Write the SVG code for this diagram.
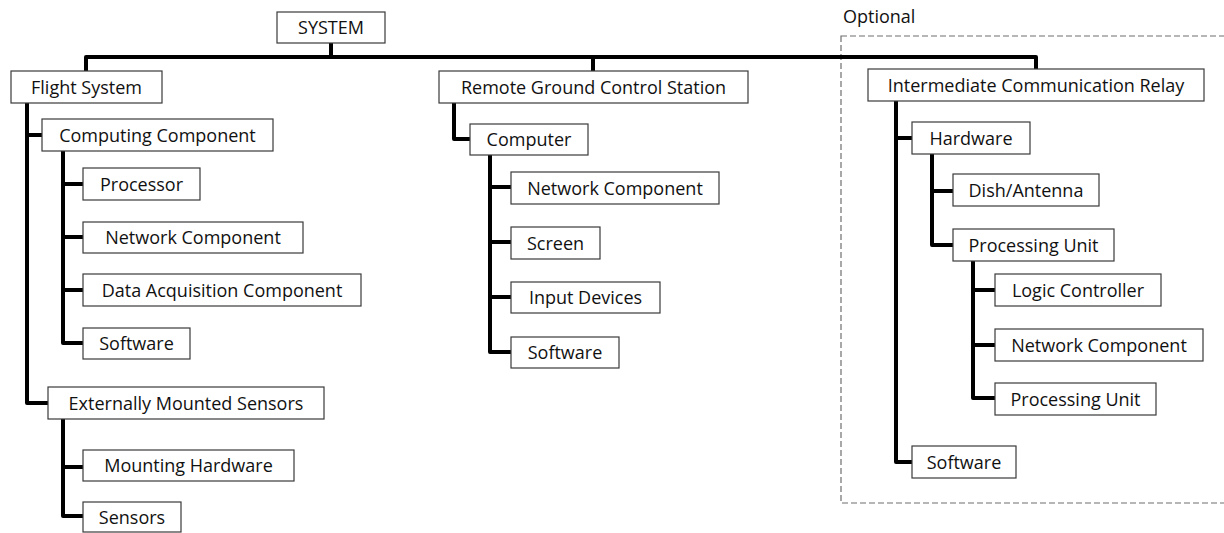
<svg xmlns="http://www.w3.org/2000/svg" width="1224" height="533" viewBox="0 0 1224 533">
  <style>
    .box rect { fill: #ffffff; stroke: #3a3a3a; stroke-width: 1.2; }
    .box text, .label { font-family: "Open Sans", "Noto Sans", sans-serif; font-size: 18px; fill: #111111; text-anchor: middle; }
    .label { text-anchor: start; }
    #connectors path { fill: none; stroke: #000000; stroke-width: 4; stroke-linejoin: round; }
    .optional { fill: none; stroke: #6e6e6e; stroke-width: 1.2; stroke-dasharray: 6 3; }
  </style>

  <!-- optional relay region -->
  <rect class="optional" x="841" y="36" width="400" height="467"/>
  <text class="label" x="843" y="23">Optional</text>

  <!-- tree connectors -->
  <g id="connectors">
    <path d="M331 43 V57"/>
    <path d="M86 71 V57 H1036 V69"/>
    <path d="M593 57 V71"/>
    <!-- Flight System -->
    <path d="M27 103 V403 H48 M27 135 H42"/>
    <path d="M63 151 V343 H83 M63 184 H83 M63 237 H83 M63 290 H83"/>
    <path d="M63 419 V516 H83 M63 467 H83"/>
    <!-- Remote Ground Control Station -->
    <path d="M454 103 V139 H470"/>
    <path d="M490 155 V352 H511 M490 187 H511 M490 242 H511 M490 297 H511"/>
    <!-- Intermediate Communication Relay -->
    <path d="M896 101 V462 H912 M896 138 H912"/>
    <path d="M932 154 V245 H953 M932 191 H953"/>
    <path d="M973 261 V398 H995 M973 290 H995 M973 345 H995"/>
  </g>

  <g id="system" class="box"><rect x="277" y="12" width="108" height="31"/><text x="331" y="34">SYSTEM</text></g>

  <g id="flight-system" class="box"><rect x="11" y="71" width="151" height="32"/><text x="86.5" y="93.5">Flight System</text></g>
  <g id="computing-component" class="box"><rect x="42" y="119" width="231" height="32"/><text x="157.5" y="141.5">Computing Component</text></g>
  <g id="processor" class="box"><rect x="83" y="168" width="117" height="32"/><text x="141.5" y="190.5">Processor</text></g>
  <g id="fs-network-component" class="box"><rect x="83" y="222" width="220" height="31"/><text x="193" y="244">Network Component</text></g>
  <g id="data-acquisition" class="box"><rect x="83" y="274" width="278" height="32"/><text x="222" y="296.5">Data Acquisition Component</text></g>
  <g id="fs-software" class="box"><rect x="83" y="328" width="107" height="31"/><text x="136.5" y="350">Software</text></g>
  <g id="external-sensors" class="box"><rect x="48" y="387" width="276" height="32"/><text x="186" y="409.5">Externally Mounted Sensors</text></g>
  <g id="mounting-hardware" class="box"><rect x="83" y="450" width="211" height="31"/><text x="188.5" y="472">Mounting Hardware</text></g>
  <g id="sensors" class="box"><rect x="83" y="502" width="98" height="30"/><text x="132" y="523.5">Sensors</text></g>

  <g id="ground-station" class="box"><rect x="439" y="71" width="309" height="32"/><text x="593.5" y="93.5">Remote Ground Control Station</text></g>
  <g id="computer" class="box"><rect x="470" y="124" width="118" height="31"/><text x="529" y="146">Computer</text></g>
  <g id="gs-network-component" class="box"><rect x="511" y="172" width="208" height="32"/><text x="615" y="194.5">Network Component</text></g>
  <g id="screen" class="box"><rect x="511" y="227" width="89" height="32"/><text x="555.5" y="249.5">Screen</text></g>
  <g id="input-devices" class="box"><rect x="511" y="282" width="149" height="31"/><text x="585.5" y="304">Input Devices</text></g>
  <g id="gs-software" class="box"><rect x="511" y="337" width="108" height="31"/><text x="565" y="359">Software</text></g>

  <g id="relay" class="box"><rect x="868" y="69" width="336" height="32"/><text x="1036" y="91.5">Intermediate Communication Relay</text></g>
  <g id="hardware" class="box"><rect x="912" y="122" width="118" height="32"/><text x="971" y="144.5">Hardware</text></g>
  <g id="dish-antenna" class="box"><rect x="953" y="174" width="146" height="32"/><text x="1026" y="196.5">Dish/Antenna</text></g>
  <g id="processing-unit" class="box"><rect x="953" y="229" width="161" height="32"/><text x="1033.5" y="251.5">Processing Unit</text></g>
  <g id="logic-controller" class="box"><rect x="995" y="274" width="166" height="32"/><text x="1078" y="296.5">Logic Controller</text></g>
  <g id="relay-network-component" class="box"><rect x="995" y="329" width="208" height="32"/><text x="1099" y="351.5">Network Component</text></g>
  <g id="relay-processing-unit" class="box"><rect x="995" y="383" width="161" height="32"/><text x="1075.5" y="405.5">Processing Unit</text></g>
  <g id="relay-software" class="box"><rect x="912" y="446" width="104" height="32"/><text x="964" y="468.5">Software</text></g>
</svg>
